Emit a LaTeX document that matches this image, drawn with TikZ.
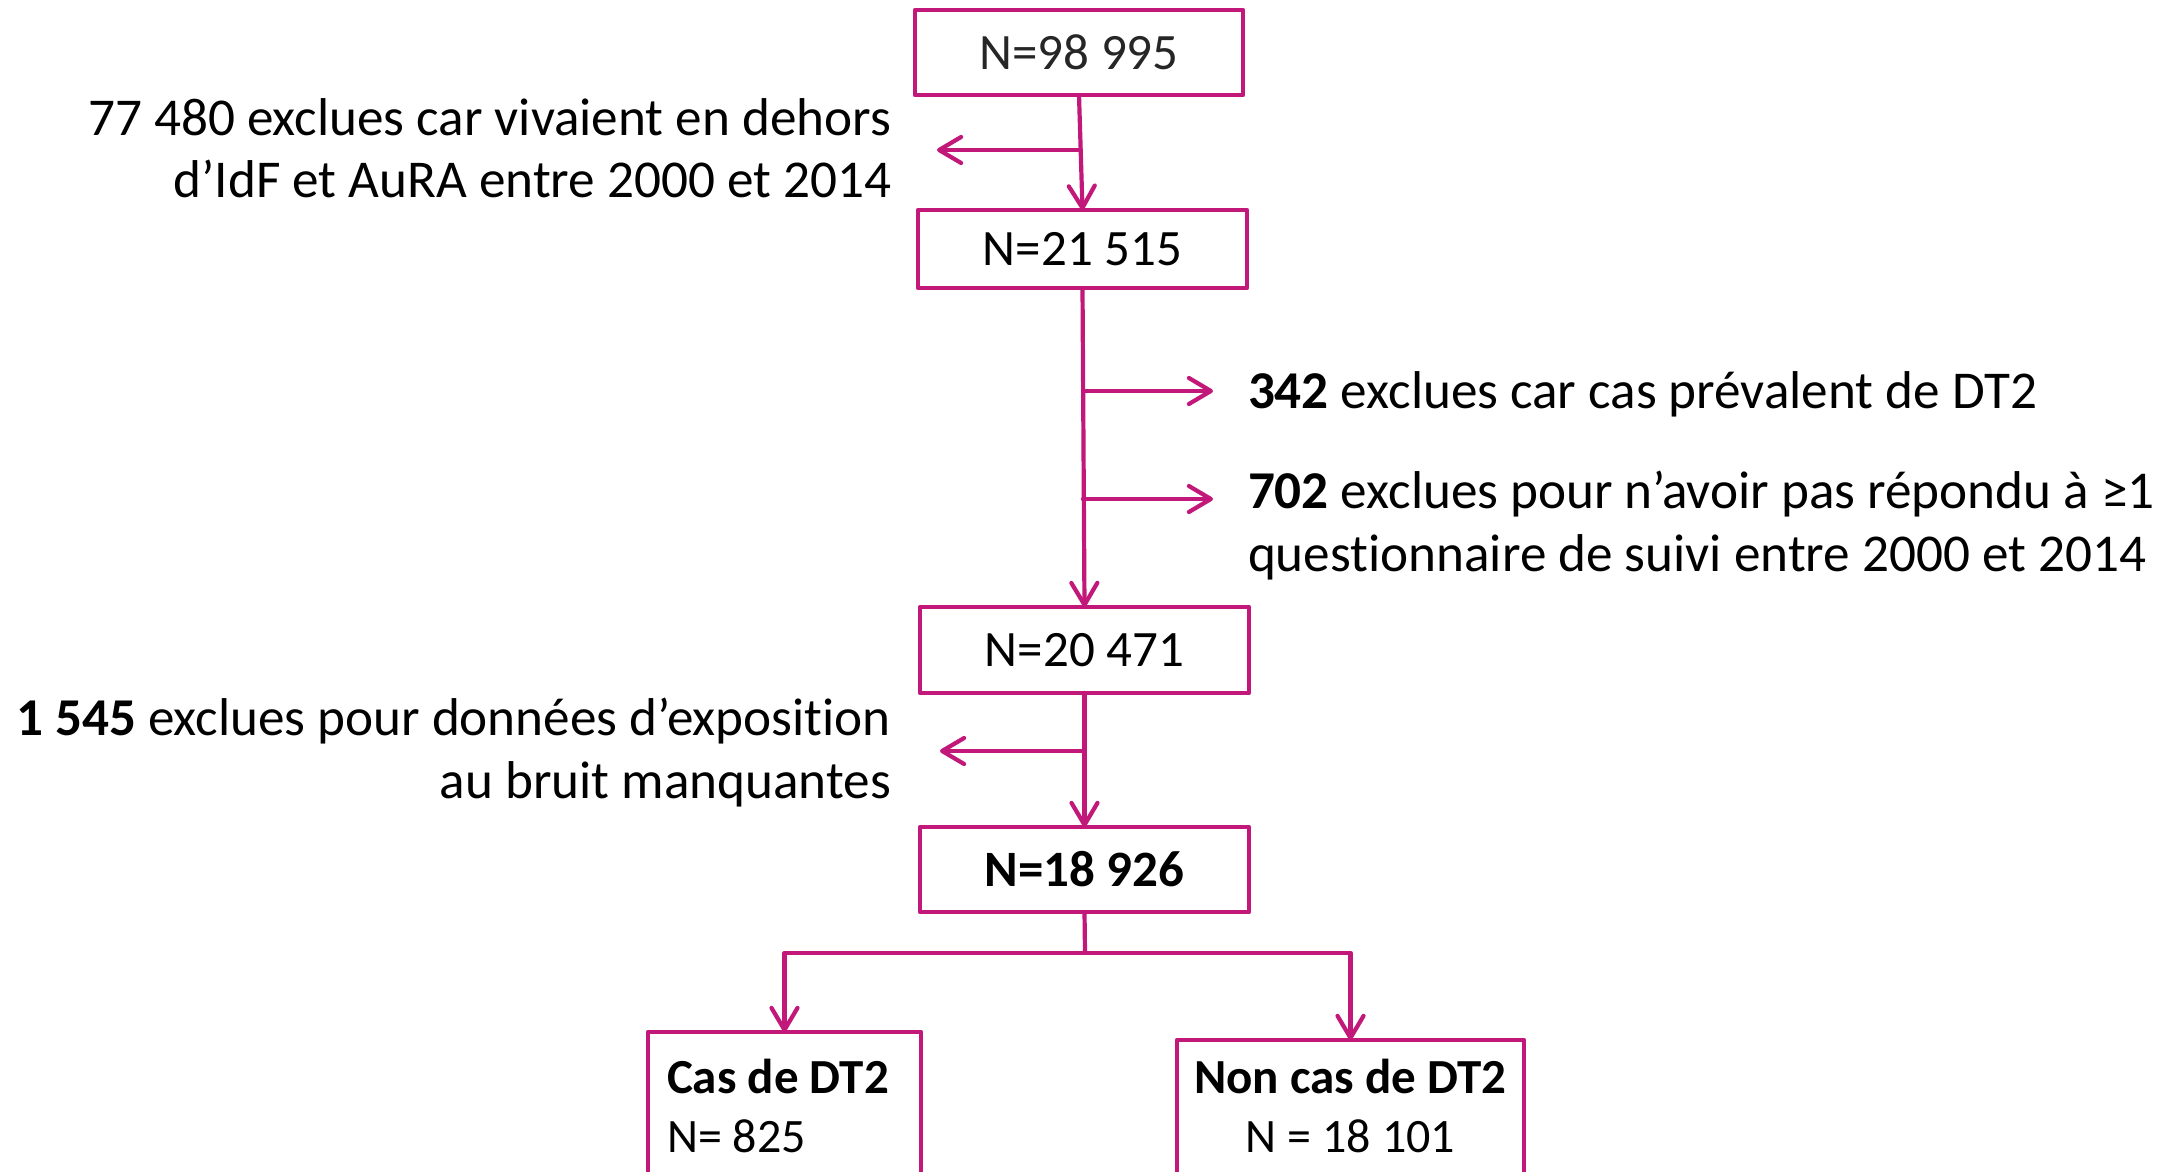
\documentclass[tikz,border=0pt]{standalone}
\usepackage{fontspec}
\setmainfont{Carlito}[Ligatures=NoCommon]
\usetikzlibrary{arrows.meta}
\definecolor{flowpink}{RGB}{193,24,122}
\begin{document}
\begin{tikzpicture}[x=0.5pt,y=-0.5pt,
  every node/.style={font=\fontsize{25.5}{31.5}\selectfont, inner sep=0pt, outer sep=0pt},
  stagebox/.style={draw=flowpink, line width=2.3pt, line join=round},
  flow/.style={draw=flowpink, line width=2.1pt, line cap=round,
    -{Straight Barb[length=11pt,width=13pt,line cap=round,line join=round]}},
  link/.style={draw=flowpink, line width=2.1pt},
  notefont/.style={font=\fontsize{26.6}{31.5}\selectfont},
  note/.style={notefont, align=right, anchor=base east},
  rnote/.style={notefont, align=left, anchor=base west},
  outfont/.style={font=\fontsize{24}{30}\selectfont},
  outbold/.style={font=\fontsize{24.5}{30}\selectfont\bfseries},
]
\useasboundingbox (0,0) rectangle (2184,1172);
\clip (0,0) rectangle (2184,1172);

% stages of the cohort
\node[stagebox, minimum width=164pt, minimum height=42.5pt, text=black!85] (n1) at (1079,52.5) {N=98 995};
\node[stagebox, minimum width=164.5pt, minimum height=39pt] (n2) at (1082.5,249) {N=21 515};
\node[stagebox, minimum width=164.5pt, minimum height=43pt] (n3) at (1084.5,650) {N=20 471};
\node[stagebox, minimum width=164.5pt, minimum height=42.5pt, font=\fontsize{25.5}{31.5}\selectfont\bfseries] (n4) at (1084.5,869.5) {N=18 926};

% outcome boxes (run past the lower edge)
\node[stagebox, minimum width=136.5pt, minimum height=110pt] (cas) at (784.5,1142) {};
\node[stagebox, minimum width=173.5pt, minimum height=110pt] (non) at (1350.5,1150) {};
\node[outbold, anchor=base west] (castitle) at (667,1093) {Cas de DT2};
\node[outfont, anchor=base west] (casn) at (667,1152) {N= 825};
\node[outbold, anchor=base] (nontitle) at (1350.5,1093) {Non cas de DT2};
\node[outfont, anchor=base] (nonn) at (1350.5,1152) {N = 18 101};

% exclusion notes (anchored on their last line)
\node[note] (ex1) at (891,198) {77 480 exclues car vivaient en dehors\\d’IdF et AuRA entre 2000 et 2014};
\node[rnote] (ex2) at (1248,408) {\textbf{342} exclues car cas prévalent de DT2};
\node[rnote] (ex3) at (1248,571) {\textbf{702} exclues pour n’avoir pas répondu à ≥1\\questionnaire de suivi entre 2000 et 2014};
\node[note] (ex4) at (891,798) {\textbf{1 545} exclues pour données d’exposition\\au bruit manquantes};

% branch points and arrow ends
\coordinate (b1) at (1080,150);  \coordinate (t1) at (937,150);
\coordinate (b2) at (1083,391);  \coordinate (t2) at (1213,391);
\coordinate (b3) at (1083,499);  \coordinate (t3) at (1213,499);
\coordinate (b4) at (1084,751);  \coordinate (t4) at (940,751);
\coordinate (fork) at (1085,953);

% main flow
\draw[flow] (n1.south) -- (n2.north);
\draw[flow] (n2.south) -- (n3.north);
\draw[flow] (n3.south) -- (n4.north);
\draw[flow] (b1) -- (t1);
\draw[flow] (b2) -- (t2);
\draw[flow] (b3) -- (t3);
\draw[flow] (b4) -- (t4);

% split into cases / non cases
\draw[link] (n4.south) -- (fork);
\draw[link] (cas.north |- fork) -- (non.north |- fork);
\draw[flow] (cas.north |- fork) -- (cas.north);
\draw[flow] (non.north |- fork) -- (non.north);
\end{tikzpicture}
\end{document}
